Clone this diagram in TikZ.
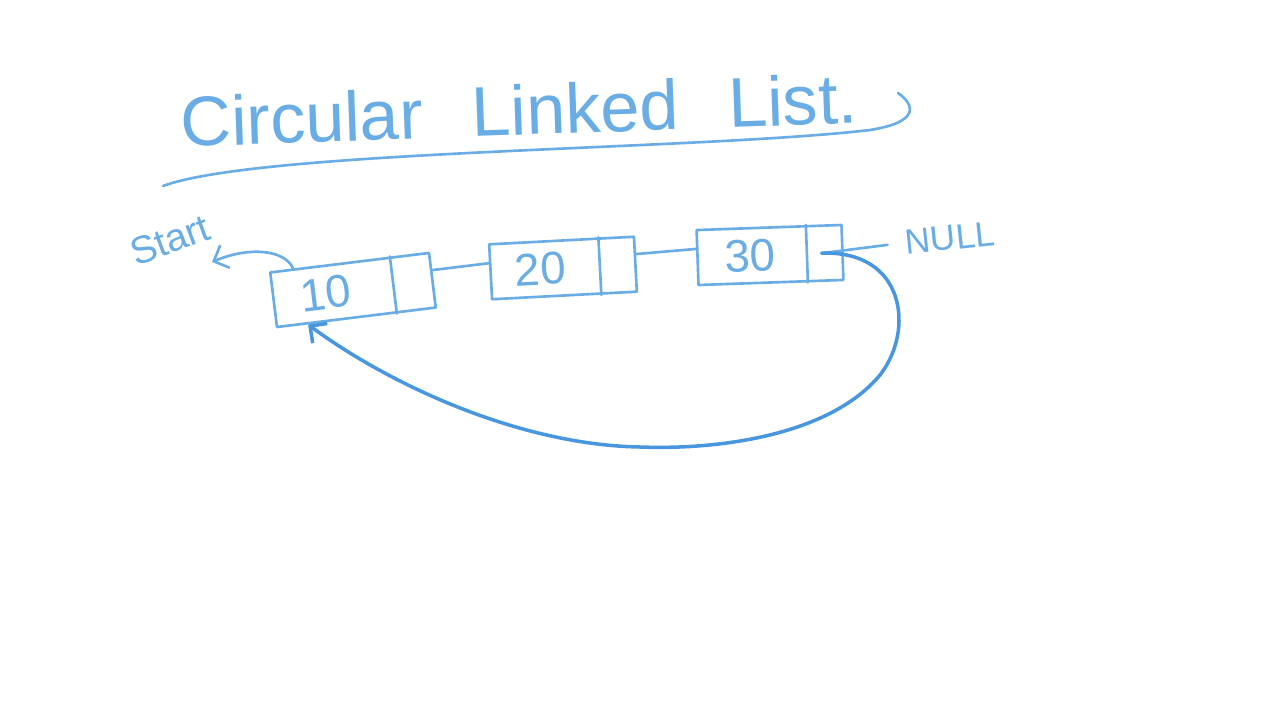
\documentclass[tikz,border=0pt]{standalone}
\usepackage{fontspec}
\setmainfont{Liberation Sans}
\usepackage{xcolor}
\usepackage{tikz}
\usetikzlibrary{calc,arrows.meta}

\definecolor{pen}{RGB}{106,172,228}
\definecolor{darkpen}{RGB}{72,150,222}

\tikzset{
    ink/.style = {draw=pen, line width=1.5pt, line cap=round, line join=round},
    cell/.style = {ink, rectangle, minimum height=1.1cm, minimum width=#1, inner sep=0pt,
                   text=pen, font=\fontsize{26}{30}\selectfont},
    handtext/.style = {text=pen, inner sep=2pt},
    barb/.style = {-{Straight Barb[length=7pt,width=14pt]}}
}

\begin{document}
\begin{tikzpicture}[x=0.02cm, y=-0.02cm]

    % \draw [help lines, step = 100] (0,0) grid (1280,720);
    \useasboundingbox (0,0) rectangle (1280,720);

    % title
    \node [handtext, font=\fontsize{40}{48}\selectfont, rotate=2] (title) at (519,110)
        {Circular\hspace{0.6cm} Linked\hspace{0.6cm} List.};
    \draw [ink] (163,186) .. controls (260,150) and (700,150) .. (870,130) .. controls (920,122) and (915,105) .. (898,93);

    % cells
    \node [cell=3.2cm, rotate=7] (n10) at (353,290) {10\hspace{1.1cm}\mbox{}};
    \node [cell=2.9cm, rotate=3] (n20) at (563,268) {20\hspace{0.9cm}\mbox{}};
    \node [cell=2.9cm, rotate=2] (n30) at (770,255) {30\hspace{0.8cm}\mbox{}};

    \foreach \n in {n10,n20,n30}
        \draw [ink] ($(\n.north east)!0.25!(\n.north west)$) -- ($(\n.south east)!0.25!(\n.south west)$);

    % links
    \draw [ink] ($(n10.east)!0.35!(n10.north east)$) -- ($(n20.west)!0.3!(n20.north west)$);
    \draw [ink] ($(n20.east)!0.35!(n20.north east)$) -- ($(n30.west)!0.3!(n30.north west)$);

    % null
    \node [handtext, font=\fontsize{20}{24}\selectfont, rotate=6] (null) at (950,238) {NULL};
    \coordinate (p30) at ($(n30.east)!0.15!(n30.west)$);
    \draw [ink, shorten >=8pt] (p30) -- (null.west);

    % start
    \node [handtext, font=\fontsize{22}{26}\selectfont, rotate=20] (start) at (170,240) {Start};
    \coordinate (starttip) at (212,262);
    \coordinate (p10top) at ($(n10.north west)!0.15!(n10.north east)$);
    \draw [ink, barb] (p10top) .. controls (285,250) and (250,246) .. (starttip);

    % back to first
    \coordinate (p10) at ($(n10.south west)!0.2!(n10.south east)$);
    \draw [ink, barb, draw=darkpen, line width=2pt] (p30) .. controls (905,250) and (915,330) .. (880,375)
        .. controls (830,435) and (720,450) .. (640,447) .. controls (520,445) and (390,385) .. (p10);

\end{tikzpicture}
\end{document}
